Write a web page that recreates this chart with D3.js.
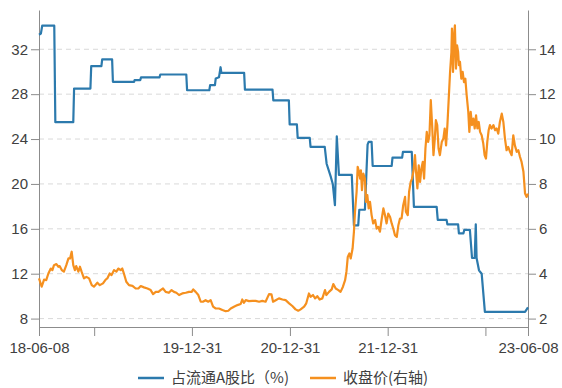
<!DOCTYPE html>
<html>
<head>
<meta charset="utf-8">
<script src="https://cdn.jsdelivr.net/npm/d3@7"></script>
<style>
  html, body { margin: 0; padding: 0; background: #fff; }
  svg { display: block; font-family: "Noto Sans", "Noto Sans CJK SC", sans-serif; }
</style>
</head>
<body>
<svg id="chart" width="562" height="388"></svg>
<script>
// 占流通A股比（%） — left axis
const shareSeries = [
  ["2018-06-08",33.3],["2018-06-15",33.4],["2018-06-20",34.1],["2018-08-04",34.1],["2018-08-08",25.5],
  ["2018-10-14",25.5],["2018-10-17",28.5],["2018-12-17",28.5],["2018-12-20",30.5],["2019-01-27",30.5],
  ["2019-01-30",31.1],["2019-03-08",31.1],["2019-03-11",29.1],["2019-05-29",29.1],["2019-05-31",29.25],
  ["2019-06-21",29.25],["2019-06-24",29.5],["2019-09-01",29.5],["2019-09-04",29.75],["2019-12-10",29.75],
  ["2019-12-13",28.35],["2020-03-05",28.35],["2020-03-08",28.8],["2020-03-26",28.8],["2020-03-29",29.4],
  ["2020-04-10",29.5],["2020-04-16",30.4],["2020-04-19",29.9],["2020-07-13",29.9],["2020-07-16",28.4],
  ["2020-10-27",28.4],["2020-10-30",27.45],["2020-12-27",27.45],["2020-12-30",25.3],["2021-01-26",25.3],
  ["2021-01-29",24.1],["2021-03-15",24.1],["2021-03-18",23.3],["2021-05-10",23.3],["2021-05-17",21.8],
  ["2021-06-02",20.6],["2021-06-09",20.0],["2021-06-17",18.1],["2021-06-24",24.25],["2021-07-02",20.8],
  ["2021-08-19",20.8],["2021-08-27",16.3],["2021-09-12",16.3],["2021-09-16",17.7],["2021-10-07",17.7],
  ["2021-10-17",23.5],["2021-10-21",23.75],["2021-11-01",23.75],["2021-11-05",21.6],["2022-01-15",21.6],
  ["2022-01-18",22.35],["2022-02-23",22.35],["2022-02-26",22.85],["2022-03-31",22.85],["2022-04-08",17.95],
  ["2022-07-02",17.95],["2022-07-06",16.8],["2022-08-08",16.8],["2022-08-11",16.4],["2022-09-20",16.4],
  ["2022-09-23",15.6],["2022-10-10",15.6],["2022-10-13",15.9],["2022-11-03",15.9],["2022-11-11",13.4],
  ["2022-11-21",13.4],["2022-11-25",16.4],["2022-11-28",13.4],["2022-12-07",12.3],["2022-12-17",12.0],
  ["2022-12-29",8.6],["2023-05-28",8.6],["2023-06-08",9.0]
];

// 收盘价 — right axis
const priceSeries = [
  ["2018-06-08",3.79],["2018-06-18",3.42],["2018-06-27",3.74],["2018-07-05",3.71],["2018-07-13",4.01],
  ["2018-07-22",4.23],["2018-07-28",4.16],["2018-08-03",4.38],["2018-08-12",4.43],["2018-08-19",4.31],
  ["2018-08-24",4.34],["2018-09-01",4.16],["2018-09-09",4.09],["2018-09-18",4.38],["2018-09-26",4.68],
  ["2018-10-02",4.68],["2018-10-08",4.98],["2018-10-14",4.38],["2018-10-20",4.16],["2018-10-25",4.34],
  ["2018-11-02",4.09],["2018-11-08",4.31],["2018-11-14",4.09],["2018-11-23",3.79],["2018-12-02",3.86],
  ["2018-12-12",3.79],["2018-12-22",3.49],["2018-12-30",3.42],["2019-01-12",3.60],["2019-01-21",3.49],
  ["2019-02-02",3.57],["2019-02-12",3.74],["2019-02-18",3.79],["2019-02-27",4.01],["2019-03-06",3.94],
  ["2019-03-15",4.16],["2019-03-24",4.09],["2019-03-31",4.23],["2019-04-09",4.16],["2019-04-15",4.23],
  ["2019-04-21",4.01],["2019-04-30",3.64],["2019-05-10",3.49],["2019-05-23",3.46],["2019-06-04",3.34],
  ["2019-06-14",3.34],["2019-06-23",3.45],["2019-07-05",3.39],["2019-07-18",3.34],["2019-07-30",3.27],
  ["2019-08-08",3.09],["2019-08-18",3.19],["2019-08-28",3.19],["2019-09-05",3.27],["2019-09-14",3.34],
  ["2019-09-24",3.19],["2019-10-06",3.15],["2019-10-16",3.27],["2019-10-25",3.19],["2019-11-03",3.15],
  ["2019-11-13",3.05],["2019-11-25",3.12],["2019-12-08",3.15],["2019-12-20",3.19],["2019-12-30",3.19],
  ["2020-01-05",3.30],["2020-01-14",3.19],["2020-01-24",3.05],["2020-02-02",2.75],["2020-02-10",2.75],
  ["2020-02-20",2.82],["2020-03-01",2.75],["2020-03-10",2.82],["2020-03-19",2.53],["2020-03-29",2.45],
  ["2020-04-10",2.45],["2020-04-23",2.38],["2020-05-05",2.33],["2020-05-15",2.35],["2020-05-24",2.45],
  ["2020-06-05",2.53],["2020-06-18",2.60],["2020-06-30",2.65],["2020-07-06",2.85],["2020-07-12",2.70],
  ["2020-07-19",2.82],["2020-07-31",2.78],["2020-08-13",2.79],["2020-08-25",2.79],["2020-09-07",2.75],
  ["2020-09-19",2.79],["2020-10-01",2.75],["2020-10-14",3.09],["2020-10-23",3.08],["2020-10-29",2.75],
  ["2020-11-08",2.82],["2020-11-20",2.90],["2020-12-03",2.85],["2020-12-15",2.82],["2020-12-28",2.68],
  ["2021-01-09",2.56],["2021-01-21",2.41],["2021-01-31",2.35],["2021-02-09",2.41],["2021-02-22",2.53],
  ["2021-03-02",2.68],["2021-03-12",3.12],["2021-03-18",2.97],["2021-03-27",3.05],["2021-04-04",2.90],
  ["2021-04-12",3.00],["2021-04-21",2.85],["2021-05-01",2.90],["2021-05-11",3.27],["2021-05-16",3.05],
  ["2021-05-26",3.19],["2021-06-05",3.30],["2021-06-11",3.54],["2021-06-20",3.34],["2021-06-30",3.27],
  ["2021-07-08",3.19],["2021-07-17",3.42],["2021-07-25",3.71],["2021-07-30",4.09],["2021-08-04",4.75],
  ["2021-08-10",4.90],["2021-08-15",4.68],["2021-08-22",5.12],["2021-08-27",5.87],["2021-08-31",6.76],
  ["2021-09-06",7.65],["2021-09-10",8.76],["2021-09-15",8.54],["2021-09-19",8.24],["2021-09-22",8.61],
  ["2021-09-26",7.72],["2021-10-01",8.46],["2021-10-07",8.24],["2021-10-11",7.20],["2021-10-16",7.50],
  ["2021-10-21",6.91],["2021-10-26",7.20],["2021-11-01",6.61],["2021-11-07",6.24],["2021-11-14",6.39],
  ["2021-11-20",6.01],["2021-11-26",6.09],["2021-12-02",5.87],["2021-12-09",6.46],["2021-12-15",6.91],
  ["2021-12-21",6.61],["2021-12-27",6.24],["2022-01-02",6.68],["2022-01-09",6.53],["2022-01-15",6.24],
  ["2022-01-21",6.01],["2022-01-27",5.72],["2022-02-03",5.64],["2022-02-09",6.16],["2022-02-15",6.46],
  ["2022-02-21",6.46],["2022-02-27",7.05],["2022-03-06",7.42],["2022-03-09",6.76],["2022-03-16",6.61],
  ["2022-03-21",7.65],["2022-03-27",8.09],["2022-04-01",8.24],["2022-04-06",8.54],["2022-04-12",9.28],
  ["2022-04-16",8.54],["2022-04-21",7.80],["2022-04-26",8.83],["2022-05-01",8.09],["2022-05-06",8.69],
  ["2022-05-11",8.98],["2022-05-16",8.24],["2022-05-21",9.58],["2022-05-26",10.32],["2022-05-31",9.87],
  ["2022-06-05",10.17],["2022-06-10",11.73],["2022-06-15",10.62],["2022-06-20",9.28],["2022-06-25",10.02],
  ["2022-06-29",10.84],["2022-07-04",10.62],["2022-07-09",9.58],["2022-07-14",9.28],["2022-07-21",9.87],
  ["2022-07-27",10.02],["2022-08-01",10.47],["2022-08-06",9.72],["2022-08-11",10.62],["2022-08-16",11.80],
  ["2022-08-21",12.99],["2022-08-26",13.88],["2022-08-28",14.92],["2022-09-01",12.99],["2022-09-05",14.62],
  ["2022-09-08",15.07],["2022-09-12",13.14],["2022-09-16",14.18],["2022-09-20",13.88],["2022-09-23",13.29],
  ["2022-09-27",13.44],["2022-10-02",12.69],["2022-10-07",12.99],["2022-10-12",12.54],["2022-10-17",12.69],
  ["2022-10-22",11.95],["2022-10-28",11.21],["2022-11-01",10.32],["2022-11-06",11.21],["2022-11-11",10.62],
  ["2022-11-16",10.91],["2022-11-21",10.47],["2022-11-26",11.06],["2022-12-01",10.47],["2022-12-06",10.76],
  ["2022-12-11",10.32],["2022-12-17",10.17],["2022-12-23",9.80],["2022-12-28",9.28],["2023-01-02",9.13],
  ["2023-01-07",9.87],["2023-01-12",10.39],["2023-01-17",10.62],["2023-01-23",10.47],["2023-01-30",10.62],
  ["2023-02-05",10.39],["2023-02-11",10.47],["2023-02-17",10.24],["2023-02-23",10.76],["2023-03-02",11.13],
  ["2023-03-08",10.76],["2023-03-14",10.02],["2023-03-20",9.50],["2023-03-26",9.65],["2023-04-02",9.43],
  ["2023-04-08",9.28],["2023-04-14",10.17],["2023-04-20",9.72],["2023-04-27",9.43],["2023-05-03",9.50],
  ["2023-05-09",9.21],["2023-05-15",8.98],["2023-05-22",8.54],["2023-05-28",7.57],["2023-06-03",7.42],
  ["2023-06-08",7.57]
];

const leftTicks = [8, 12, 16, 20, 24, 28, 32];
const rightTicks = [2, 4, 6, 8, 10, 12, 14];
const dateTicks = ["2018-06-08", "2018-12-31", "2019-12-31", "2020-12-31", "2021-12-31", "2022-12-31", "2023-06-08"];
const labelledDates = ["2018-06-08", "2019-12-31", "2020-12-31", "2021-12-31", "2023-06-08"];
const legendNames = ["占流通A股比（%)", "收盘价(右轴)"];
const seriesColors = ["#2c7aad", "#f5901f"];

const parse = d3.utcParse("%Y-%m-%d");
const fmt = d3.utcFormat("%y-%m-%d");
const labelSet = new Set(labelledDates);

const plot = { left: 39, right: 528, top: 10, bottom: 327 };

const x = d3.scaleUtc()
  .domain([parse(dateTicks[0]), parse(dateTicks[dateTicks.length - 1])])
  .range([plot.left, plot.right]);
const yLeft = d3.scaleLinear().domain([7.25, 35.5]).range([plot.bottom, plot.top]);
const yRight = d3.scaleLinear().domain([1.625, 15.75]).range([plot.bottom, plot.top]);

const svg = d3.select("#chart");
const textColor = "#404040";
const axisColor = "#8c8c8c";

// dashed horizontal gridlines
svg.append("g")
  .selectAll("line")
  .data(leftTicks)
  .join("line")
  .attr("x1", plot.left).attr("x2", plot.right)
  .attr("y1", d => yLeft(d)).attr("y2", d => yLeft(d))
  .attr("stroke", "#d9d9d9")
  .attr("stroke-width", 1)
  .attr("stroke-dasharray", "5,4");

function styleAxis(g) {
  g.selectAll("path, line").attr("stroke", axisColor);
  g.selectAll("text").attr("fill", textColor).attr("font-size", 15);
}

svg.append("g")
  .attr("transform", `translate(${plot.left},0)`)
  .call(d3.axisLeft(yLeft).tickValues(leftTicks).tickSize(8).tickSizeOuter(0).tickPadding(3))
  .call(styleAxis);

svg.append("g")
  .attr("transform", `translate(${plot.right},0)`)
  .call(d3.axisRight(yRight).tickValues(rightTicks).tickSize(8).tickSizeOuter(0).tickPadding(3))
  .call(styleAxis);

svg.append("g")
  .attr("transform", `translate(0,${plot.bottom})`)
  .call(d3.axisBottom(x)
    .tickValues(dateTicks.map(parse))
    .tickSize(9).tickSizeOuter(0).tickPadding(6)
    .tickFormat(d => labelSet.has(d3.utcFormat("%Y-%m-%d")(d)) ? fmt(d) : ""))
  .call(styleAxis);

const shareLine = d3.line()
  .x(d => x(parse(d[0])))
  .y(d => yLeft(d[1]));
const priceLine = d3.line()
  .x(d => x(parse(d[0])))
  .y(d => yRight(d[1]));

svg.append("path")
  .datum(shareSeries)
  .attr("d", shareLine)
  .attr("fill", "none")
  .attr("stroke", seriesColors[0])
  .attr("stroke-width", 2.2)
  .attr("stroke-linejoin", "round");

svg.append("path")
  .datum(priceSeries)
  .attr("d", priceLine)
  .attr("fill", "none")
  .attr("stroke", seriesColors[1])
  .attr("stroke-width", 2.2)
  .attr("stroke-linejoin", "round");

// legend
const legendY = 378;
const legendX = [138, 310];
const legend = svg.append("g")
  .selectAll("g")
  .data(legendNames)
  .join("g")
  .attr("transform", (d, i) => `translate(${legendX[i]},${legendY})`);
legend.append("line")
  .attr("x1", 0).attr("x2", 26)
  .attr("stroke", (d, i) => seriesColors[i])
  .attr("stroke-width", 2.5);
legend.append("text")
  .attr("x", 33)
  .attr("dy", "0.35em")
  .attr("font-size", 15)
  .attr("font-family", "'Noto Sans CJK SC', sans-serif")
  .attr("fill", textColor)
  .text(d => d);
</script>
</body>
</html>
